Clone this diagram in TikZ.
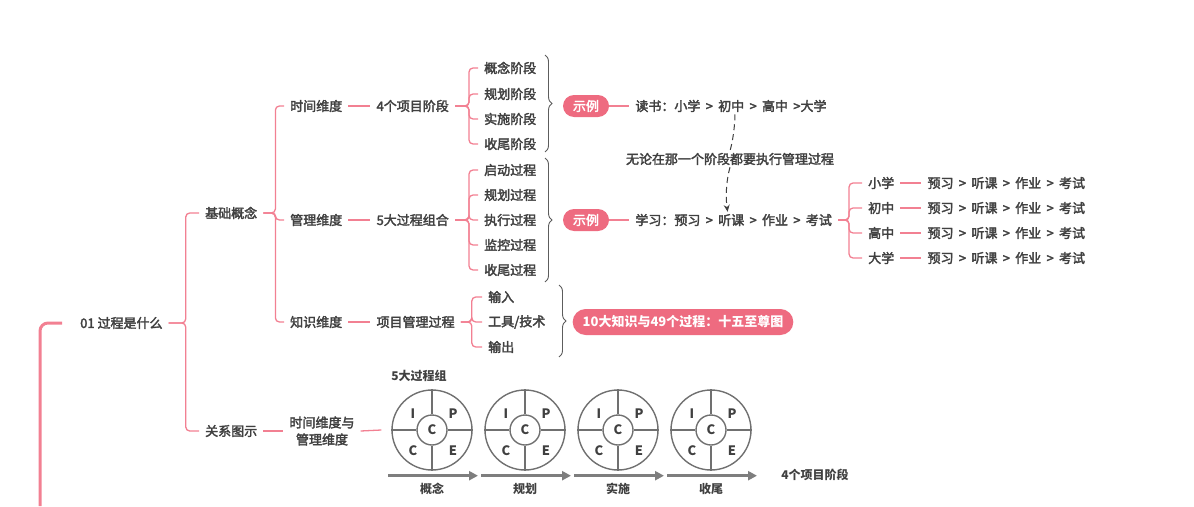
\documentclass[tikz,border=0pt]{standalone}
\usepackage{fontspec}
\setmainfont{Noto Sans CJK SC}
\newfontfamily\mapfont{Noto Sans CJK SC}[FakeBold=2.6]
\usepackage{xcolor}
\usepackage{tikz}
\usetikzlibrary{arrows.meta, positioning, calc, decorations.pathreplacing}
\definecolor{mappink}{RGB}{242, 128, 146}
\definecolor{pillpink}{RGB}{238, 107, 128}
\definecolor{inkgray}{RGB}{64, 64, 64}
\definecolor{cyclegray}{RGB}{112, 112, 112}
\newcommand{\nxt}{\hspace{5.3pt}>\hspace{5.3pt}}

\begin{document}
\begin{tikzpicture}[
    x=1pt, y=-1pt,
    node distance=22pt,
    topic/.style={anchor=west, inner xsep=6pt, inner ysep=2pt, text=inkgray, font=\mapfont\fontsize{13}{17}\selectfont},
    pill/.style={fill=pillpink, text=white, rounded corners=11pt, minimum height=22pt, inner xsep=10pt, font=\mapfont\fontsize{13}{16}\selectfont},
    link/.style={draw=mappink, line width=1.3pt, rounded corners=4pt},
    rootlink/.style={draw=mappink, line width=3pt, rounded corners=8pt},
    curly/.style={draw=inkgray!85, line width=0.9pt, decorate, decoration={brace, amplitude=7pt}},
    hint/.style={draw=inkgray, line width=1pt, dash pattern=on 6pt off 4pt},
    cycle/.style={circle, draw=cyclegray, line width=1.4pt, minimum size=80pt, inner sep=0pt},
    hub/.style={circle, draw=cyclegray, line width=1.4pt, minimum size=30pt, inner sep=0pt, text=inkgray, font=\fontsize{13}{14}\selectfont\bfseries},
    letter/.style={text=inkgray, inner sep=0pt, font=\fontsize{13}{14}\selectfont\bfseries},
    caption/.style={text=inkgray, font=\fontsize{12}{14}\selectfont\bfseries},
    phasearrow/.style={draw=cyclegray!90, line width=3pt, -{Triangle[length=9pt, width=9pt]}}
]
    \useasboundingbox (0,0) rectangle (1194,506);

    % main branches
    \node[topic] (root) at (74,323) {01 过程是什么};
    \node[topic] (basic) at (199,213) {基础概念};
    \node[topic] (relation) at (199,431) {关系图示};
    \node[topic] (time) at (284,106) {时间维度};
    \node[topic] (mgmt) at (284,220) {管理维度};
    \node[topic] (know) at (284,322) {知识维度};
    \node[topic, right=of time] (stages) {4个项目阶段};
    \node[topic, right=of mgmt] (groups) {5大过程组合};
    \node[topic, right=of know] (pmproc) {项目管理过程};

    \coordinate (rootend) at (40,506);
    \draw[rootlink] ([xshift=-12pt]root.west) -| (rootend);
    \foreach \child in {basic, relation}
        \draw[link] (root.east) -- ++(17,0) |- (\child.west);
    \foreach \child in {time, mgmt, know}
        \draw[link] (basic.east) -- ++(12,0) |- (\child.west);
    \draw[link] (time) -- (stages);
    \draw[link] (mgmt) -- (groups);
    \draw[link] (know) -- (pmproc);

    % stages and process groups
    \foreach \txt/\y [count=\i] in {概念阶段/68, 规划阶段/94, 实施阶段/119, 收尾阶段/144} {
        \node[topic] (st\i) at (478,\y) {\txt};
        \draw[link] (stages.east) -- ++(14,0) |- (st\i.west);
    }
    \foreach \txt/\y [count=\i] in {启动过程/170, 规划过程/195, 执行过程/220, 监控过程/245, 收尾过程/270} {
        \node[topic] (pg\i) at (478,\y) {\txt};
        \draw[link] (groups.east) -- ++(14,0) |- (pg\i.west);
    }
    \foreach \txt/\y [count=\i] in {输入/297, {工具/技术}/322, 输出/347} {
        \node[topic] (io\i) at (482,\y) {\txt};
        \draw[link] (pmproc.east) -- ++(11,0) |- (io\i.west);
    }

    \draw[curly] (545,55) -- (545,152);
    \draw[curly] (545,158) -- (545,282);
    \draw[curly] (559,285) -- (559,357);

    % examples
    \node[pill] (ex1) at (586,106) {示例};
    \node[pill] (ex2) at (586,220) {示例};
    \node[pill, minimum height=26pt, rounded corners=13pt, font=\fontsize{13}{16}\selectfont\bfseries] (tenkn) at (683,322) {10大知识与49个过程：十五至尊图};
    \node[topic, right=20pt of ex1] (read) {读书：小学\nxt 初中\nxt 高中\hspace{5.3pt}>大学};
    \node[topic, right=20pt of ex2] (study) {学习：预习\nxt 听课\nxt 作业\nxt 考试};
    \node[text=inkgray, font=\mapfont\fontsize{13}{17}\selectfont, inner sep=2pt] (every) at (730,159) {无论在那一个阶段都要执行管理过程};
    \draw[link] (ex1) -- (read);
    \draw[link] (ex2) -- (study);
    \draw[hint] ([xshift=4pt]read.south) .. controls +(0,10) and +(3,-10) .. (every.north);
    \draw[hint, -{Stealth[length=7pt, width=6pt]}] (every.south) .. controls +(-4,14) and +(-2,-14) .. ([xshift=-6pt]study.north);

    \foreach \lvl/\y [count=\i] in {小学/183, 初中/208, 高中/233, 大学/258} {
        \node[topic] (lv\i) at (862,\y) {\lvl};
        \node[topic, right=21pt of lv\i] (seq\i) {预习\nxt 听课\nxt 作业\nxt 考试};
        \draw[link] (study.east) -- ++(11,0) |- (lv\i.west);
        \draw[link] (lv\i) -- (seq\i);
    }

    % relation diagram
    \node[text=inkgray, font=\mapfont\fontsize{13}{17}\selectfont, align=center, inner sep=6pt] (both) at (322,431) {时间维度与\\管理维度};
    \draw[link] (relation) -- (both);
    \node[caption] (groupcap) at (419,376) {5大过程组};
    \foreach \cx/\phase [count=\i] in {432/概念, 525/规划, 618/实施, 711/收尾} {
        \node[cycle] (cyc\i) at (\cx,430) {};
        \node[hub] (hub\i) at (cyc\i) {C};
        \draw[cyclegray, line width=1.4pt] (cyc\i.north) -- (hub\i.north);
        \draw[cyclegray, line width=1.4pt] (cyc\i.south) -- (hub\i.south);
        \draw[cyclegray, line width=1.4pt] (cyc\i.west) -- (hub\i.west);
        \draw[cyclegray, line width=1.4pt] (cyc\i.east) -- (hub\i.east);
        \node[letter] at ($(cyc\i)+(-19,-16)$) {I};
        \node[letter] at ($(cyc\i)+(21,-16)$) {P};
        \node[letter] at ($(cyc\i)+(-19,21)$) {C};
        \node[letter] at ($(cyc\i)+(21,21)$) {E};
        \node[caption] (ph\i) at (\cx,489) {\phase};
        \draw[phasearrow] ($(cyc\i.south)+(-44,5)$) -- ($(cyc\i.south)+(46,5)$);
    }
    \draw[link] (both.east) -- ([xshift=-10pt]cyc1.west);
    \node[caption] (stagecap) at (815,475) {4个项目阶段};
\end{tikzpicture}
\end{document}
